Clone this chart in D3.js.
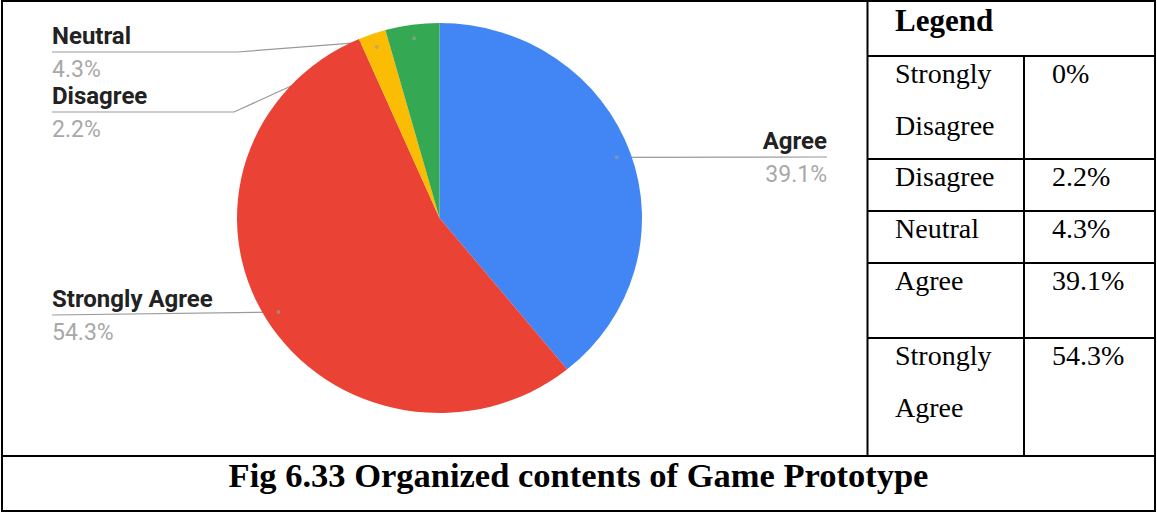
<!DOCTYPE html>
<html>
<head>
<meta charset="utf-8">
<script src="https://cdn.jsdelivr.net/npm/d3@7"></script>
<style>
  html, body { margin: 0; padding: 0; background: #fff; }
  svg { display: block; }
</style>
</head>
<body>
<svg id="chart" width="1157" height="512"></svg>
<script>
// ---- data ----
const pieCategories = ["Agree", "Strongly Agree", "Disagree", "Neutral"];
const pieValues = [39.1, 54.3, 2.2, 4.3];
const pieLabels = ["39.1%", "54.3%", "2.2%", "4.3%"];
const pieColors = ["#4285F4", "#EA4335", "#FBBC04", "#34A853"];

const legendTitle = "Legend";
const legendNames = [["Strongly", "Disagree"], ["Disagree"], ["Neutral"], ["Agree"], ["Strongly", "Agree"]];
const legendValues = ["0%", "2.2%", "4.3%", "39.1%", "54.3%"];
const captionText = "Fig 6.33 Organized contents of Game Prototype";

(function () {
// ---- layout ----
const svg = d3.select("#chart");
const cx = 439.5, cy = 218, R = 200, sx = 1.0125, sy = 0.975;

// leader-line layout per slice (label side, label line y, bend x)
const labelLayout = {
  "Agree": { side: "right", y: 157, x: 827 },
  "Strongly Agree": { side: "left", y: 315, x: 52 },
  "Disagree": { side: "left", y: 112, x: 52, bend: 234 },
  "Neutral": { side: "left", y: 52, x: 52, bend: 237 }
};

const pie = d3.pie().sort(null).value(d => d)(pieValues);
const arc = d3.arc().innerRadius(0).outerRadius(R);

function anchor(p) {
  const a = (p.startAngle + p.endAngle) / 2;
  const rho = R * 0.93;
  return [cx + Math.sin(a) * rho * sx, cy - Math.cos(a) * rho * sy];
}

// leader lines (under pie)
const lines = svg.append("g").attr("fill", "none").attr("stroke", "#9a9a9a").attr("stroke-width", 1.2);
pie.forEach((p, i) => {
  const L = labelLayout[pieCategories[i]];
  const [ax, ay] = anchor(p);
  const pts = [[L.x, L.y]];
  if (L.bend !== undefined) pts.push([L.bend, L.y]);
  pts.push([ax, ay]);
  lines.append("path").attr("d", d3.line()(pts));
});

// pie
const pg = svg.append("g").attr("transform", `translate(${cx},${cy}) scale(${sx},${sy})`);
pg.selectAll("path").data(pie).join("path")
  .attr("d", arc)
  .attr("fill", (d, i) => pieColors[i]);

// anchor dots
svg.append("g").selectAll("circle").data(pie).join("circle")
  .attr("cx", d => anchor(d)[0]).attr("cy", d => anchor(d)[1])
  .attr("r", 2).attr("fill", "#9e9e9e").attr("opacity", 0.6);

// labels
const lg = svg.append("g").attr("font-family", "Roboto, Arial, sans-serif");
pie.forEach((p, i) => {
  const L = labelLayout[pieCategories[i]];
  const anchorTxt = L.side === "right" ? "end" : "start";
  lg.append("text").attr("x", L.x).attr("y", L.y - 8)
    .attr("text-anchor", anchorTxt).attr("font-size", 24).attr("font-weight", "bold")
    .attr("fill", "#222").text(pieCategories[i]);
  lg.append("text").attr("x", L.x).attr("y", L.y + 25)
    .attr("text-anchor", anchorTxt).attr("font-size", 23)
    .attr("fill", "#a8a8a8").text(pieLabels[i]);
});

// ---- table frame ----
const frame = svg.append("g").attr("stroke", "#000").attr("stroke-width", 2);
const colX = 867.5, valX = 1024, x0 = 2, x1 = 1155, y0 = 1, y1 = 511, capY = 456;
const rowTops = [56, 159, 211, 263, 338];
frame.append("rect").attr("x", x0).attr("y", y0).attr("width", x1 - x0).attr("height", y1 - y0).attr("fill", "none");
frame.append("line").attr("x1", colX).attr("x2", colX).attr("y1", y0).attr("y2", capY);
frame.append("line").attr("x1", valX).attr("x2", valX).attr("y1", rowTops[0]).attr("y2", capY);
rowTops.forEach(y => frame.append("line").attr("x1", colX).attr("x2", x1).attr("y1", y).attr("y2", y));
frame.append("line").attr("x1", x0).attr("x2", x1).attr("y1", capY).attr("y2", capY);

// legend texts
const tg = svg.append("g").attr("font-family", "'Liberation Serif', 'Times New Roman', serif").attr("fill", "#000");
tg.append("text").attr("x", 895).attr("y", 31).attr("font-size", 31).attr("font-weight", "bold").text(legendTitle);
legendNames.forEach((lines2, i) => {
  lines2.forEach((t, j) => {
    tg.append("text").attr("x", 895).attr("y", rowTops[i] + 27 + j * 52).attr("font-size", 28).text(t);
  });
  tg.append("text").attr("x", 1052).attr("y", rowTops[i] + 27).attr("font-size", 28).text(legendValues[i]);
});

// caption
tg.append("text").attr("x", (x0 + x1) / 2).attr("y", 487).attr("text-anchor", "middle")
  .attr("font-size", 34.5).attr("font-weight", "bold").text(captionText);
})();
</script>
</body>
</html>
